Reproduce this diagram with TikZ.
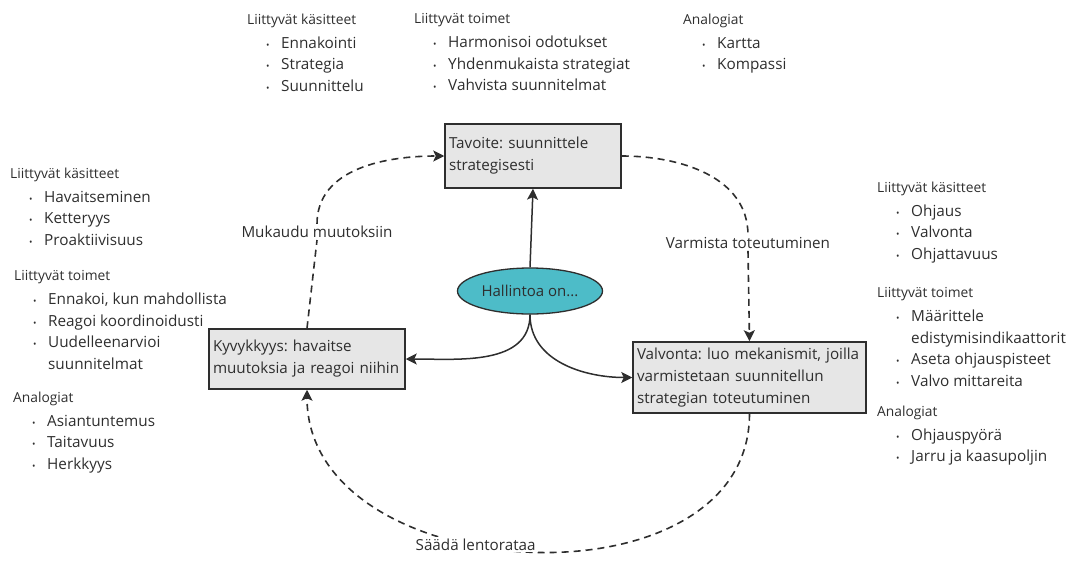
\documentclass[tikz,border=0pt]{standalone}
\usepackage{fontspec}
\setmainfont{Open Sans}
\usetikzlibrary{arrows.meta,shapes.geometric}
\definecolor{viiva}{HTML}{2E2E2E}
\definecolor{harmaa}{HTML}{E6E6E6}
\definecolor{turkoosi}{HTML}{4DBCC8}
\frenchspacing
% otsikko ja luettelon kohdat
\newcommand{\otsikko}[1]{{\fontsize{13.8}{21.5}\selectfont #1}\\[2.5pt]}
\newcommand{\kohta}{\makebox[34pt][l]{\hspace{19pt}\scalebox{0.6}{\textbullet}}}
\newcommand{\sisennys}{\hspace*{34pt}}
\tikzset{
	lista/.style={anchor=north west, align=left, inner sep=0pt, text=viiva, font=\fontsize{15.3}{21.5}\selectfont},
	laatikko/.style={draw=viiva, line width=1.5pt, fill=harmaa, align=left, text=viiva, inner xsep=4pt, font=\fontsize{15.2}{22}\selectfont},
	keskus/.style={ellipse, draw=viiva, line width=1.3pt, fill=turkoosi, minimum width=145pt, minimum height=46pt, inner sep=0pt, text=viiva, font=\fontsize{15}{18}\selectfont},
	nimi/.style={inner sep=2pt, fill=white, text=viiva, font=\fontsize{15.2}{18}\selectfont},
	nuoli/.style={draw=viiva, line width=1.5pt, -{Stealth[length=11pt,width=11pt,inset=2.5pt]}},
	katkonuoli/.style={nuoli, line width=1.6pt, dash pattern=on 7pt off 5pt}
}
\begin{document}
\begin{tikzpicture}[x=1pt,y=-1pt]
	\useasboundingbox (0,0) rectangle (1069,565);
		% Laatikot
			\node[laatikko, minimum width=176pt, minimum height=64pt, text width=168pt] (tav) at (533,156) {Tavoite: suunnittele\\strategisesti};
			\node[laatikko, minimum width=196pt, minimum height=60pt, text width=188pt] (kyv) at (307,359) {Kyvykkyys: havaitse\\muutoksia ja reagoi niihin};
			\node[laatikko, minimum width=233pt, minimum height=71pt, text width=225pt] (val) at (749.5,377.5) {Valvonta: luo mekanismit, joilla\\varmistetaan suunnitellun\\strategian toteutuminen};
			\node[keskus] (hal) at (530,291) {Hallintoa on...};
		% Nimet
			\node[nimi] (muk) at (317,232) {Mukaudu muutoksiin};
			\node[nimi] (var) at (748,243) {Varmista toteutuminen};
		% Nuolet
			\draw[nuoli] (hal.north) -- (tav.south);
			\draw[nuoli] (hal.south) to[out=-90,in=0] (kyv.east);
			\draw[nuoli] (hal.south) to[out=-90,in=180] (val.west);
			\draw[katkonuoli] (kyv.north) -- (muk.south) (muk.north) to[out=90,in=180] (tav.west);
			\draw[katkonuoli] (tav.east) to[out=0,in=90] (var.north) (var.south) -- (val.north);
			\draw[katkonuoli] (val.south) to[out=-90,in=-90,looseness=1.15] node[pos=0.58,nimi] (saa) {Säädä lentorataa} (kyv.south);
		% Luettelot ylhäällä
			\node[lista] (tk) at (247,13.5) {\otsikko{Liittyvät käsitteet}\kohta Ennakointi\\\kohta Strategia\\\kohta Suunnittelu};
			\node[lista] (tt) at (414,13.5) {\otsikko{Liittyvät toimet}\kohta Harmonisoi odotukset\\\kohta Yhdenmukaista strategiat\\\kohta Vahvista suunnitelmat};
			\node[lista] (ta) at (683,13.5) {\otsikko{Analogiat}\kohta Kartta\\\kohta Kompassi};
		% Luettelot vasemmalla
			\node[lista] (vk) at (10,167.5) {\otsikko{Liittyvät käsitteet}\kohta Havaitseminen\\\kohta Ketteryys\\\kohta Proaktiivisuus};
			\node[lista] (vt) at (14,270.5) {\otsikko{Liittyvät toimet}\kohta Ennakoi, kun mahdollista\\\kohta Reagoi koordinoidusti\\\kohta Uudelleenarvioi\\\sisennys suunnitelmat};
			\node[lista] (va) at (13,391.5) {\otsikko{Analogiat}\kohta Asiantuntemus\\\kohta Taitavuus\\\kohta Herkkyys};
		% Luettelot oikealla
			\node[lista] (ok) at (877,181.5) {\otsikko{Liittyvät käsitteet}\kohta Ohjaus\\\kohta Valvonta\\\kohta Ohjattavuus};
			\node[lista] (ot) at (877,287.5) {\otsikko{Liittyvät toimet}\kohta Määrittele\\\sisennys edistymisindikaattorit\\\kohta Aseta ohjauspisteet\\\kohta Valvo mittareita};
			\node[lista] (oa) at (877,405.5) {\otsikko{Analogiat}\kohta Ohjauspyörä\\\kohta Jarru ja kaasupoljin};
\end{tikzpicture}
\end{document}
